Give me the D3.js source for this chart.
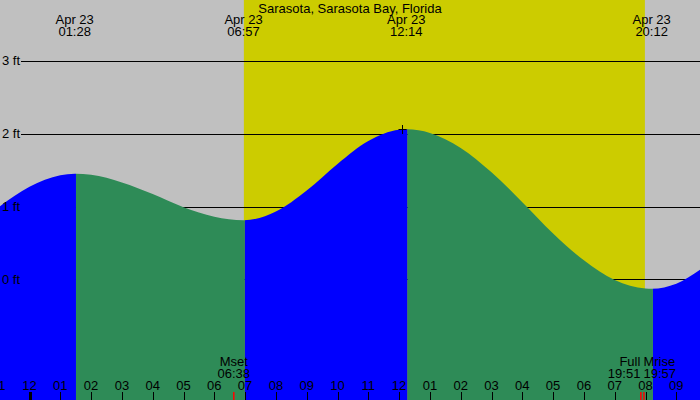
<!DOCTYPE html>
<html><head><meta charset="utf-8">
<script src="https://cdn.jsdelivr.net/npm/d3@7"></script>
<style>
html,body{margin:0;padding:0;background:#c0c0c0;}
svg{display:block;}
text{font-family:"Liberation Sans",Arial,sans-serif;font-size:13px;fill:#000;}
</style>
</head><body>
<svg id="chart" width="700" height="400"></svg>
<script>
// ---- data (hours since midnight Apr 23, heights in feet) ----
const title = "Sarasota, Sarasota Bay, Florida";
const dateLabel = "Apr 23";
const tideHours = [-1, 0, 1, 1.467, 2, 3, 4, 5, 6, 6.95, 8, 9, 10, 11, 12, 12.233, 13, 14, 15, 16, 17, 18, 19, 20, 20.2, 21, 22];
const tideFeet  = [0.99, 1.27, 1.43, 1.45, 1.435, 1.33, 1.17, 0.99, 0.86, 0.81, 0.93, 1.22, 1.585, 1.90, 2.054, 2.06, 2.01, 1.805, 1.47, 1.06, 0.63, 0.26, -0.01, -0.127, -0.13, -0.06, 0.20];
const extremeHours  = [1.467, 6.95, 12.233, 20.2];
const extremeTimes  = ["01:28", "06:57", "12:14", "20:12"];
const extremeTypes  = ["high", "low", "high", "low"];
const sunriseHour = 6.96, sunsetHour = 19.98;
const moonHours = [6.633, 19.85, 19.95];
const moonNames = ["Mset", "Full", "Mrise"];
const moonTimes = ["06:38", "19:51", "19:57"];
const hourTicks = [-1, 0, 1, 2, 3, 4, 5, 6, 7, 8, 9, 10, 11, 12, 13, 14, 15, 16, 17, 18, 19, 20, 21];
const hourTickLabels = ["11","12","01","02","03","04","05","06","07","08","09","10","11","12","01","02","03","04","05","06","07","08","09"];
const footTicks = [0, 1, 2, 3];
const footTickLabels = ["0 ft", "1 ft", "2 ft", "3 ft"];

// ---- layout ----
const W = 700, H = 400;
const svg = d3.select("#chart");
const x = d3.scaleLinear().domain([0, 20]).range([29.5, 645.5]);
const y = d3.scaleLinear().domain([0, 3]).range([279.3, 60.9]);

// background
svg.append("rect").attr("x", 0).attr("y", 0).attr("width", W).attr("height", H).attr("fill", "#c0c0c0");
svg.append("rect").attr("x", x(sunriseHour)).attr("y", 0)
  .attr("width", x(sunsetHour) - x(sunriseHour)).attr("height", H).attr("fill", "#cccc00");

// grid lines (under water)
svg.selectAll("line.grid").data(footTicks).enter().append("line")
  .attr("x1", 21).attr("x2", W)
  .attr("y1", d => Math.round(y(d)) + 0.5).attr("y2", d => Math.round(y(d)) + 0.5)
  .attr("stroke", "#000").attr("stroke-width", 1);

// water
const pts = tideHours.map((h, i) => [h, tideFeet[i]]);
const area = d3.area().x(d => x(d[0])).y0(H).y1(d => y(d[1])).curve(d3.curveMonotoneX);
const bounds = [tideHours[0] - 1].concat(extremeHours, [tideHours[tideHours.length - 1] + 1]);
const defs = svg.append("defs");
for (let i = 0; i < bounds.length - 1; i++) {
  const rising = i < extremeTypes.length ? extremeTypes[i] === "high" : extremeTypes[extremeTypes.length - 1] === "low";
  const x0 = x(bounds[i]) + 1.3, x1 = x(bounds[i + 1]) + 1.3;
  defs.append("clipPath").attr("id", "seg" + i).append("rect")
    .attr("x", x0).attr("y", 0).attr("width", x1 - x0).attr("height", H);
  svg.append("path").datum(pts).attr("d", area)
    .attr("fill", rising ? "#0000ff" : "#2e8b57")
    .attr("clip-path", "url(#seg" + i + ")");
}

// peak cross at highest tide
const iMax = d3.maxIndex(extremeHours, (h, i) => tideFeet[tideHours.indexOf(h)]);
const cx = Math.round(x(extremeHours[iMax]) - 4) + 0.5, cy = Math.round(y(tideFeet[tideHours.indexOf(extremeHours[iMax])])) + 0.5;
svg.append("line").attr("x1", cx - 4).attr("x2", cx + 4).attr("y1", cy).attr("y2", cy).attr("stroke", "#000");
svg.append("line").attr("x1", cx).attr("x2", cx).attr("y1", cy - 4.5).attr("y2", cy + 4.5).attr("stroke", "#000");

// y labels
svg.selectAll("text.ft").data(footTicks).enter().append("text")
  .attr("x", 2).attr("y", d => y(d) + 4.5).text((d, i) => footTickLabels[i]);

// title
svg.append("text").attr("x", W / 2).attr("y", 12.5).attr("text-anchor", "middle").text(title);

// extreme labels
extremeHours.forEach((h, i) => {
  svg.append("text").attr("x", x(h)).attr("y", 24).attr("text-anchor", "middle").text(dateLabel);
  svg.append("text").attr("x", x(h)).attr("y", 36).attr("text-anchor", "middle").text(extremeTimes[i]);
});

// hour axis
const axisG = svg.append("g");
hourTicks.forEach((h, i) => {
  const xp = Math.round(x(h)) + 0.5;
  axisG.append("line").attr("x1", xp).attr("x2", xp).attr("y1", 392).attr("y2", H)
    .attr("stroke", "#000").attr("stroke-width", ((h % 24) + 24) % 24 === 0 ? 3 : 1);
  axisG.append("text").attr("x", x(h)).attr("y", 390).attr("text-anchor", "middle").text(hourTickLabels[i]);
});

// moon events
moonHours.forEach((h, i) => {
  const xp = x(h);
  svg.append("line").attr("x1", xp).attr("x2", xp).attr("y1", 392).attr("y2", H)
    .attr("stroke", "#ff0000").attr("stroke-width", 1.5);
  const prevClose = i > 0 && h - moonHours[i - 1] < 0.5;
  const nextClose = i < moonHours.length - 1 && moonHours[i + 1] - h < 0.5;
  const anchor = nextClose ? "end" : (prevClose ? "start" : "middle");
  const tx = nextClose ? xp - 0.5 : (prevClose ? xp - 0.5 : xp);
  svg.append("text").attr("x", tx).attr("y", 366).attr("text-anchor", anchor).text(moonNames[i]);
  svg.append("text").attr("x", tx).attr("y", 378).attr("text-anchor", anchor).text(moonTimes[i]);
});
</script>
</body></html>
